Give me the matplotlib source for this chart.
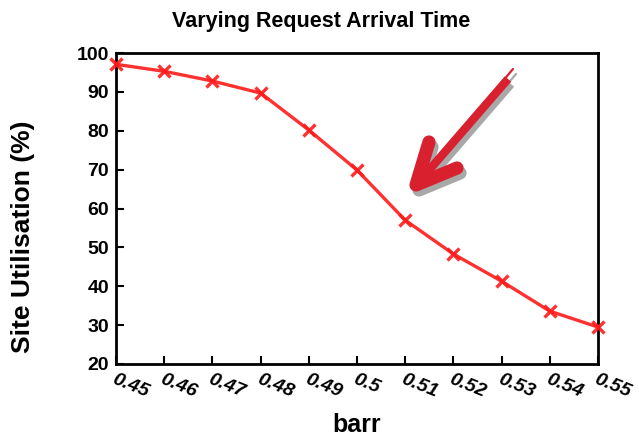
import matplotlib
matplotlib.use("Agg")
import matplotlib.pyplot as plt
from matplotlib.lines import Line2D

barr = [0.45, 0.46, 0.47, 0.48, 0.49, 0.50, 0.51, 0.52, 0.53, 0.54, 0.55]
utilisation = [97.1, 95.3, 92.8, 89.7, 80.2, 69.9, 57.0, 48.3, 41.3, 33.6, 29.5]
xtick_labels = ["0.45", "0.46", "0.47", "0.48", "0.49", "0.5", "0.51", "0.52", "0.53", "0.54", "0.55"]
ytick_values = [20, 30, 40, 50, 60, 70, 80, 90, 100]

plt.rcParams['font.family'] = ['Liberation Sans', 'DejaVu Sans']

fig = plt.figure(figsize=(6.39, 4.42), dpi=100)
ax = fig.add_axes([0.1815, 0.1765, 0.7543, 0.7035])

ax.plot(barr, utilisation, color='#ff1a1a', lw=2.4, marker='x', ms=9, mew=2.4, alpha=0.9,
        clip_on=False, zorder=3)

ax.set_xlim(0.45, 0.55)
ax.set_ylim(20, 100)
ax.set_xticks(barr)
ax.set_xticklabels(xtick_labels, rotation=-22, ha='left', va='top', rotation_mode='anchor',
                   fontsize=14, fontweight='bold', style='italic')
ax.set_yticks(ytick_values)
ax.set_yticklabels([str(v) for v in ytick_values], fontsize=14, fontweight='bold')
ax.tick_params(direction='in', length=6, width=1.5, top=False, right=False, pad=5)
for s in ax.spines.values():
    s.set_linewidth(2)

fig.text(321 / 639, 1 - 21 / 442, "Varying Request Arrival Time", fontsize=15.5,
         fontweight='bold', ha='center', va='center')
ax.set_ylabel("Site Utilisation (%)", fontsize=19, fontweight='bold')
ax.yaxis.set_label_coords(-0.168, 0.41)
ax.set_xlabel("barr", fontsize=18, fontweight='bold', labelpad=9)

# Callout arrow with drop shadow, drawn as thick round-capped strokes in figure pixels
H = 442
def stroke(xs, ys, color, lw, z, cap='round'):
    fig.add_artist(Line2D(xs, [H - y for y in ys], transform=None, color=color, lw=lw,
                          solid_capstyle=cap, solid_joinstyle='round', zorder=z))

def callout(dx, dy, color, z):
    tip = (416 + dx, 185 + dy)
    stroke([508 + dx, 424 + dx], [79 + dy, 176 + dy], color, 6, z, cap='butt')
    stroke([429 + dx, tip[0], 457 + dx], [142 + dy, tip[1], 168 + dy], color, 9.5, z)
    stroke([513 + dx, 436 + dx], [69 + dy, 160 + dy], color, 1.6, z)

callout(3, 5, '#a8a8a8', 5)
callout(0, 0, '#d9202f', 6)

fig.savefig("out.png", dpi=100)
